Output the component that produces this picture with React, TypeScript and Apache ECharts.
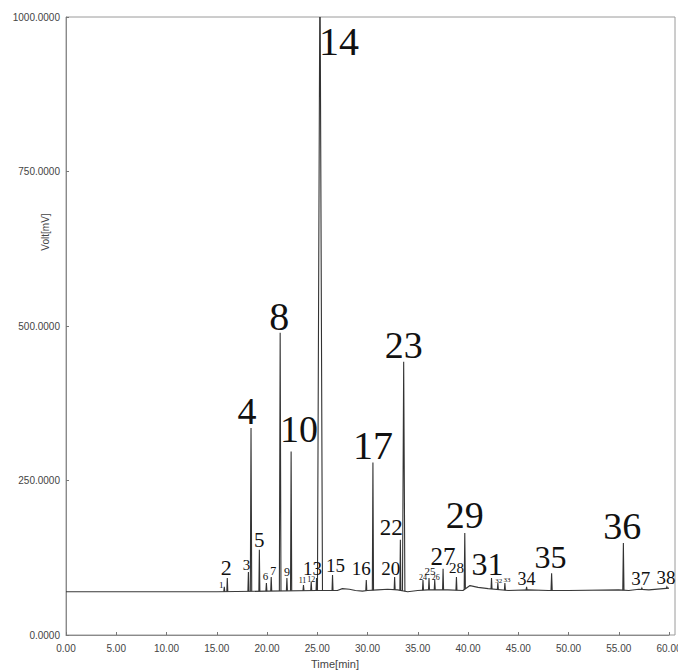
import { useEffect, useRef } from "react";
import * as echarts from "echarts";

// ---- data ----
const peakNames = ["1","2","3","4","5","6","7","8","9","10","11","12","13","14","15","16","17","20","22","23","24","25","26","27","28","29","31","32","33","34","35","36","37","38"];
const peakTimes = [15.75,16.05,18.15,18.41,19.24,19.94,20.42,21.31,21.98,22.4,23.63,24.4,24.93,25.27,26.52,29.88,30.54,32.7,33.27,33.6,35.52,36.12,36.69,37.52,38.85,39.68,42.34,42.97,43.67,45.83,48.32,55.46,57.3,59.79];
const peakValues = [78,92,102,335,138,84,94,489,92,297,81,86,92,1100,97,89,279,94,154,442,89,92,89,107,94,165,92,84,84,78,100,149,76,78];

const baselineTimes = [0,15,20,25,27,27.5,28.2,28.8,29.5,30,31,32,33,34,35,36,38,39.5,40.2,41,42,44,46,48,50,55,56,57,58,60];
const baselineValues = [70,70,71,72,72,75,74,72,71,72,73,74,73,70,72,73,73,72,80,77,75,72,73,72,72,73,72,74,73,76];

const xTickInterval = 5;
const yTickInterval = 250;

// ---- styles for the peak marks and their labels ----
const labelSizes = [9,22,15,38,21,11,12,40,12,38,8,8,19,40,19,19,40,19,23,38,8,11,8,25,15,38,32,7,7,18,32,38,19,19];
const labelDx = [-3,-1,-2,-4,0,-1,2,-1,0,8,-1,0,-4,19,3,-5,0,-4,-9,0,0,1,1,0,0,0,-4,1,2,0,-1,-1,-1,-1];
const labelGap = [-1,3,2,4,3,3,2,3,2,10,2,0,3,0,3,5,3,2,5,4,0,3,0,4,4,5,3,0,1,2,5,4,3,3];
const halfWidths = [0.05,0.05,0.05,0.07,0.05,0.05,0.05,0.08,0.05,0.06,0.05,0.05,0.05,0.25,0.05,0.05,0.06,0.05,0.05,0.12,0.05,0.05,0.05,0.05,0.05,0.06,0.05,0.05,0.05,0.05,0.06,0.06,0.05,0.05];

function baseAt(t: number): number {
  for (let i = 0; i < baselineTimes.length - 1; i++) {
    const a = baselineTimes[i], b = baselineTimes[i + 1];
    if (t >= a && t <= b) {
      const f = (t - a) / (b - a);
      return baselineValues[i] + f * (baselineValues[i + 1] - baselineValues[i]);
    }
  }
  return baselineValues[baselineValues.length - 1];
}

export default function App() {
  const ref = useRef<HTMLDivElement>(null);
  useEffect(() => {
    if (!ref.current) return;
    const chart = echarts.init(ref.current, undefined, { renderer: "svg" });
    const peakData = peakTimes.map((t, i) => [t, peakValues[i]]);
    const option: any = {
      animation: false,
      backgroundColor: "#ffffff",
      grid: { left: 66, right: 9, top: 17, bottom: 37, containLabel: false, outerBoundsMode: "none" },
      xAxis: {
        type: "value",
        min: 0,
        max: 60,
        interval: xTickInterval,
        axisLine: { show: true, lineStyle: { color: "#8a8a8a", width: 1 } },
        axisTick: { show: true, inside: true, length: 3, lineStyle: { color: "#777" } },
        axisLabel: {
          formatter: (v: number) => v.toFixed(2),
          fontSize: 10,
          color: "#444",
          fontFamily: "Liberation Sans, Arial, sans-serif",
          margin: 8,
          hideOverlap: false,
        },
        splitLine: { show: false },
      },
      yAxis: {
        type: "value",
        min: 0,
        max: 1000,
        interval: yTickInterval,
        axisLine: { show: true, lineStyle: { color: "#8a8a8a", width: 1 } },
        axisTick: { show: true, inside: true, length: 3, lineStyle: { color: "#777" } },
        axisLabel: {
          formatter: (v: number) => v.toFixed(4),
          fontSize: 10,
          color: "#444",
          fontFamily: "Liberation Sans, Arial, sans-serif",
          margin: 6,
        },
        splitLine: { show: false },
      },
      graphic: [
        {
          type: "rect",
          shape: { x: 66, y: 17, width: 609, height: 618 },
          style: { fill: "none", stroke: "#9a9a9a", lineWidth: 1 },
          silent: true,
          z: -1,
        },
        {
          type: "text",
          x: 335,
          y: 664,
          style: {
            text: "Time[min]",
            fontSize: 11,
            fontFamily: "Liberation Sans, Arial, sans-serif",
            fill: "#444",
            align: "center",
            verticalAlign: "middle",
            textAlign: "center",
            textVerticalAlign: "middle",
          },
        },
        {
          type: "text",
          x: 45,
          y: 232,
          rotation: Math.PI / 2,
          style: {
            text: "Volt[mV]",
            fontSize: 10,
            fontFamily: "Liberation Sans, Arial, sans-serif",
            fill: "#444",
            align: "center",
            verticalAlign: "middle",
            textAlign: "center",
            textVerticalAlign: "middle",
          },
        },
      ],
      series: [
        {
          type: "line",
          data: baselineTimes.map((t, i) => [t, baselineValues[i]]),
          showSymbol: false,
          symbol: "none",
          lineStyle: { color: "#3a3a3a", width: 1.2 },
          z: 3,
        },
        {
          type: "custom",
          clip: true,
          data: peakData,
          renderItem: (params: any, api: any) => {
            const i = params.dataIndex;
            const t = api.value(0);
            const v = api.value(1);
            const w = halfWidths[i];
            const p0 = api.coord([t - w, baseAt(t - w)]);
            const p1 = api.coord([t, v]);
            const p2 = api.coord([t + w, baseAt(t + w)]);
            return {
              type: "polyline",
              shape: { points: [p0, p1, p2] },
              style: { stroke: "#333", lineWidth: 1.1, fill: "none" },
            };
          },
          z: 4,
        },
        {
          type: "custom",
          clip: false,
          data: peakData,
          renderItem: (params: any, api: any) => {
            const i = params.dataIndex;
            const t = api.value(0);
            const v = api.value(1);
            const fs = labelSizes[i];
            let x: number, y: number;
            if (v > 1000) {
              const p = api.coord([t, 1000]);
              x = p[0] + labelDx[i];
              y = p[1] + 38 - 0.34 * fs;
            } else {
              const p = api.coord([t, v]);
              x = p[0] + labelDx[i];
              y = p[1] - labelGap[i] - 0.34 * fs;
            }
            return {
              type: "text",
              x,
              y,
              style: {
                text: peakNames[i],
                fontSize: fs,
                fontFamily: "Liberation Serif, Times New Roman, serif",
                fill: "#111",
                align: "center",
                verticalAlign: "middle",
                textAlign: "center",
                textVerticalAlign: "middle",
              },
            };
          },
          z: 5,
        },
      ],
    };
    chart.setOption(option);
    return () => chart.dispose();
  }, []);
  return (
    <div
      ref={ref}
      style={{ position: "fixed", left: 0, top: 0, width: 678, height: 672, background: "#fff" }}
    />
  );
}
